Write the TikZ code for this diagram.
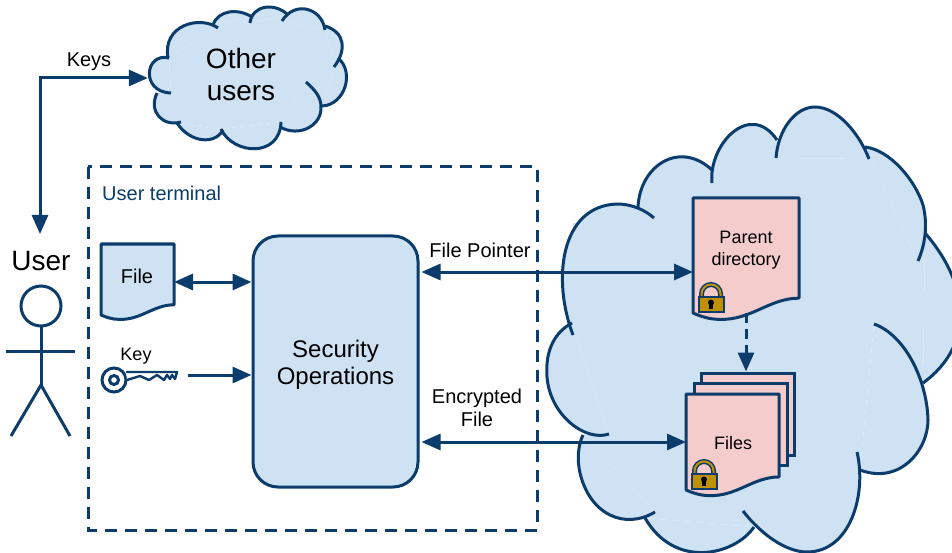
\documentclass[tikz,border=0pt]{standalone}
\usepackage{fontspec}
\usepackage{tikz}
\usetikzlibrary{arrows.meta}
\setmainfont{Liberation Sans}

\definecolor{linkblue}{HTML}{0B3C6B}
\definecolor{cloudblue}{HTML}{CFE2F3}
\definecolor{sheetpink}{HTML}{F4CCCC}
\definecolor{lockgold}{HTML}{BF9000}

\newcommand{\lobefill}[1]{\fill[cloudblue] #1 -- cycle;}
\newcommand{\lobeline}[1]{\draw[cloudline] #1;}

\newcommand{\otherlobes}[1]{
    #1{(169,58) .. controls (145,52) and (140,92) .. (171,93)}
    #1{(157,93) .. controls (148,112) and (163,127) .. (181,122)}
    #1{(177,123) .. controls (190,143) and (215,145) .. (223,130)}
    #1{(221,129) .. controls (233,155) and (280,158) .. (281,122)}
    #1{(280,127) .. controls (300,138) and (322,125) .. (321,107) .. controls (321,97) and (315,90) .. (306,82)}
    #1{(322,106) .. controls (345,105) and (355,72) .. (338,58)}
    #1{(334,67) .. controls (347,50) and (345,32) .. (325,26)}
    #1{(325,30) .. controls (322,8) and (295,0) .. (282,21)}
    #1{(288,15) .. controls (275,2) and (252,5) .. (250,23)}
    #1{(252,17) .. controls (238,8) and (218,10) .. (213,25)}
    #1{(218,28) .. controls (200,15) and (162,25) .. (168,58)}
}
\newcommand{\storagelobes}[1]{
    #1{(573,335) .. controls (552,280) and (560,206) .. (617,204) .. controls (632,204) and (645,210) .. (654,218)}
    #1{(638,207) .. controls (640,165) and (680,140) .. (712,170)}
    #1{(712,183) .. controls (708,145) and (750,100) .. (777,140)}
    #1{(776,158) .. controls (778,130) and (795,107) .. (815,107) .. controls (838,107) and (860,135) .. (869,159)}
    #1{(865,147) .. controls (890,150) and (915,180) .. (923,205) .. controls (928,225) and (925,245) .. (918,261)}
    #1{(925,233) .. controls (970,285) and (975,345) .. (923,383)}
    #1{(874,324) .. controls (905,335) and (927,380) .. (928,420) .. controls (928,450) and (900,485) .. (860,470)}
    #1{(857,452) .. controls (867,495) and (850,552) .. (807,552) .. controls (785,552) and (760,533) .. (743,511)}
    #1{(754,527) .. controls (735,555) and (675,570) .. (645,518)}
    #1{(655,512) .. controls (625,530) and (590,515) .. (580,473) .. controls (577,460) and (578,445) .. (583,435)}
    #1{(609,434) .. controls (585,442) and (550,415) .. (547,377) .. controls (545,350) and (555,332) .. (572,323)}
}
\newcommand{\docsheet}[6]{
    \draw[sheetline,fill=#6] (#2,#3) -- ({#2+#4},#3) -- ({#2+#4},{#3+#5-.14*#4})
        .. controls ({#2+.72*#4},{#3+#5-.14*#4}) and ({#2+.55*#4},{#3+#5+.07*#4}) .. ({#2+.25*#4},{#3+#5+.06*#4})
        .. controls ({#2+.15*#4},{#3+#5+.06*#4}) and ({#2+.07*#4},{#3+#5+.03*#4}) .. (#2,{#3+#5}) -- cycle;
    \node[sheetbox,minimum width=#4pt,minimum height=#5pt] (#1) at ({#2+#4/2},{#3+#5/2}) {};
}

\begin{document}
\begin{tikzpicture}[x=1pt,y=-1pt,>={Triangle[length=19pt,width=16pt]},
    link/.style={draw=linkblue,line width=3pt},
    cloudline/.style={draw=linkblue,line width=3pt},
    sheetline/.style={draw=linkblue,line width=3pt,line join=round},
    sheetbox/.style={rectangle,inner sep=0pt,outer sep=0pt},
    cloudtext/.style={align=center,font=\fontsize{28}{32}\selectfont},
    smalltext/.style={align=center,font=\fontsize{20}{23}\selectfont},
    sheettext/.style={align=center,font=\fontsize{18}{22}\selectfont},
    padlock/.pic={
        \draw[linkblue,line width=5pt] (-9.5,-14) -- (-9.5,-18) arc[start angle=180,end angle=360,radius=9.5] -- (9.5,-14);
        \draw[lockgold,line width=2pt] (-9.5,-14) -- (-9.5,-18) arc[start angle=180,end angle=360,radius=9.5] -- (9.5,-14);
        \draw[linkblue,fill=lockgold,line width=2pt] (-12.5,-15) rectangle (12.5,0);
        \fill[black] (0,-9.5) circle[radius=3pt];
        \fill[black] (-1.8,-9) rectangle (1.8,-3);
    }]
    \useasboundingbox (0,0) rectangle (952,553);
    \clip (0,0) rectangle (952,553);

    \otherlobes{\lobefill}
    \fill[cloudblue] (169,58) -- (171,93) -- (157,93) -- (181,122) -- (177,123) -- (223,130) -- (221,129) -- (281,122) -- (280,127) -- (306,82) -- (322,106) -- (338,58) -- (334,67) -- (325,26) -- (325,30) -- (282,21) -- (288,15) -- (250,23) -- (252,17) -- (213,25) -- (218,28) -- (168,58) -- cycle;
    \otherlobes{\lobeline}

    \storagelobes{\lobefill}
    \fill[cloudblue] (573,335) -- (573,223) -- (654,218) -- (638,207) -- (712,170) -- (712,183) -- (777,140) -- (776,158) -- (869,159) -- (865,147) -- (918,261) -- (925,233) -- (923,383) -- (874,324) -- (860,470) -- (857,452) -- (743,511) -- (754,527) -- (645,518) -- (655,512) -- (583,435) -- (609,434) -- (572,323) -- cycle;
    \storagelobes{\lobeline}

    \draw[link,dash pattern=on 12pt off 8pt] (88,167) rectangle (537,530);

    \node[cloudtext,minimum width=186pt] (other) at (241,74) {Other\\users};
    \node[cloudtext] (user) at (41,261) {User};
    \coordinate (usertip) at (40,234);
    \node[smalltext] (keys) at (89,62) {Keys};
    \node[smalltext,text=linkblue,anchor=west,inner sep=0pt] (terminal) at (102,193) {User terminal};
    \node[rectangle,draw=linkblue,line width=3pt,fill=cloudblue,rounded corners=25pt,minimum width=165pt,minimum height=251pt,align=center,font=\fontsize{24}{27}\selectfont] (security) at (335.5,361.5) {\rule{0pt}{23pt}Security\\Operations};

    \docsheet{file}{101}{244}{73}{71}{cloudblue}
    \node[smalltext] (filetext) at (137,276) {File};
    \node[sheettext] (keytext) at (136,356) {Key};
    \draw[link,fill=white] (114,380) circle[radius=12pt];
    \draw[link,fill=white] (114,380) circle[radius=4.5pt];
    \draw[draw=linkblue,line width=2.4pt,fill=white,line join=round] (126,372) -- (177,372) -- (175,379) -- (172,375) -- (170,379) -- (167,375) -- (164,380) -- (157,375) -- (149,380) -- (140,376) -- (127,380);
    \coordinate (keyend) at (188,375);
    \coordinate (fileptr) at (0,282);
    \coordinate (pointer) at (0,272);

    \draw[link,fill=white] (41,306) circle[radius=20pt];
    \coordinate (hip) at (41,385);
    \draw[link] (41,326) -- (hip);
    \draw[link] (6,351) -- (75,351);
    \draw[link] (11,436) -- (hip) -- (70,436);

    \docsheet{parent}{693}{198}{106}{115}{sheetpink}
    \node[sheettext] (parenttext) at (746,250) {Parent\\directory};
    \pic at (711,312) {padlock};

    \node[rectangle,draw=linkblue,line width=3pt,fill=sheetpink,minimum width=93pt,minimum height=82pt] (filesback) at (747.5,414) {};
    \node[rectangle,draw=linkblue,line width=3pt,fill=sheetpink,minimum width=93pt,minimum height=82pt] (filesmid) at (740.5,424) {};
    \docsheet{files}{686}{394}{93}{96}{sheetpink}
    \node[sheettext] (filestext) at (733,443) {Files};
    \pic at (704,489) {padlock};

    \node[smalltext] (ptrtext) at (480,250) {File Pointer};
    \node[smalltext] (enctext) at (477,408) {Encrypted\\File};

    \draw[link,<->] ([yshift=-4pt]other.west) -| (usertip);
    \draw[link,<->] (file.east |- fileptr) -- (security.west |- fileptr);
    \draw[link,->] (keyend) -- (security.west |- keyend);
    \draw[link,<->] ([xshift=2pt]security.east |- pointer) -- (parent.west |- pointer);
    \draw[link,<->] ([xshift=2pt]security.east |- files.west) -- (files.west);
    \draw[link,->,dash pattern=on 10pt off 6pt] (parent.south) -- (parent.south |- filesback.north);
\end{tikzpicture}
\end{document}
